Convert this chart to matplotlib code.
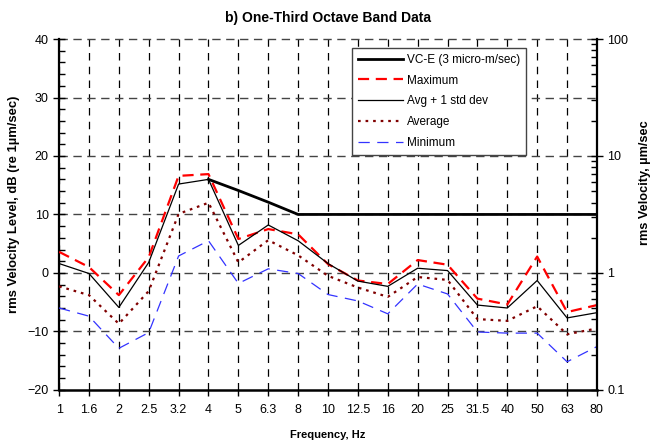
import numpy as np
import matplotlib
matplotlib.use("Agg")
import matplotlib.pyplot as plt
from matplotlib.ticker import MultipleLocator, LogLocator, NullFormatter, FixedLocator

plt.rcParams['font.family'] = ['Liberation Sans', 'DejaVu Sans']

# ── Data ─────────────────────────────────────────────────────────────────────
freq_labels = ['1', '1.6', '2', '2.5', '3.2', '4', '5', '6.3', '8', '10',
               '12.5', '16', '20', '25', '31.5', '40', '50', '63', '80']

vce     = [np.nan, np.nan, np.nan, np.nan, np.nan, 16.0, 14.1, 12.1, 10.0, 10.0,
           10.0, 10.0, 10.0, 10.0, 10.0, 10.0, 10.0, 10.0, 10.0]
maximum = [3.6, 1.0, -3.8, 2.7, 16.6, 16.9, 5.8, 7.5, 6.6, 1.5,
           -1.3, -1.9, 2.2, 1.4, -4.4, -5.4, 2.8, -6.7, -5.5]
avg_std = [1.6, -0.1, -5.9, 1.8, 15.2, 16.0, 4.7, 8.2, 5.5, 1.6,
           -1.4, -2.3, 0.8, 0.4, -5.5, -6.0, -1.3, -7.7, -6.8]
average = [-2.3, -3.8, -8.7, -3.1, 10.1, 12.0, 1.8, 5.6, 3.0, -0.5,
           -2.5, -4.1, -0.7, -1.2, -7.9, -8.2, -5.7, -10.5, -9.5]
minimum = [-6.0, -7.4, -12.9, -10.2, 2.9, 5.5, -1.8, 0.7, -0.1, -3.7,
           -4.8, -7.0, -1.9, -3.6, -10.1, -10.3, -10.3, -15.2, -12.6]

x = np.arange(len(freq_labels))

# ── Plot ─────────────────────────────────────────────────────────────────────
fig = plt.figure(figsize=(6.64, 4.44), dpi=100)
ax = fig.add_axes([0.089, 0.122, 0.810, 0.790])

# grid first so lines sit on top
for xi in x:
    ax.axvline(xi, color='black', lw=0.9, dashes=(6, 5), zorder=1)
for yv in [-10, 0, 10, 20, 30, 40]:
    ax.axhline(yv, color='#444444', lw=1.0, dashes=(6, 4), zorder=1, clip_on=False)

ax.plot(x, vce, color='black', lw=2.0, label='VC-E (3 micro-m/sec)', zorder=5)
ax.plot(x, maximum, color='#ff0000', lw=1.6, dashes=(5, 3), label='Maximum', zorder=4)
ax.plot(x, avg_std, color='black', lw=0.9, label='Avg + 1 std dev', zorder=4)
ax.plot(x, average, color='#800000', lw=1.6, dashes=(1.2, 2.2), label='Average', zorder=3)
ax.plot(x, minimum, color='#3333ff', lw=0.9, dashes=(9, 6), label='Minimum', zorder=3)

ax.set_xlim(0, len(x) - 1)
ax.set_ylim(-20, 40)
ax.set_xticks(x)
ax.set_xticklabels(freq_labels)
ax.yaxis.set_major_locator(MultipleLocator(10))
ax.yaxis.set_minor_locator(MultipleLocator(2))
ax.tick_params(axis='y', which='major', direction='inout', length=8, width=1, labelsize=9)
ax.tick_params(axis='y', which='minor', direction='in', length=4, width=1)
ax.tick_params(axis='x', which='major', direction='out', length=4, width=1, labelsize=9, pad=6)

ax.spines['top'].set_visible(False)
ax.spines['right'].set_visible(False)
ax.spines['left'].set_linewidth(1.6)
ax.spines['bottom'].set_linewidth(1.8)

ax.set_xlabel('Frequency, Hz', fontsize=8, fontweight='bold', labelpad=10)
ax.set_ylabel('rms Velocity Level, dB (re 1µm/sec)', fontsize=9.4, fontweight='bold')
ax.yaxis.set_label_coords(-0.072, 0.53)
ax.set_title('b) One-Third Octave Band Data', fontsize=10, fontweight='bold', pad=12)

# right axis in µm/sec (20 log10)
ax2 = ax.twinx()
ax2.set_yscale('log')
ax2.set_ylim(0.1, 100)
ax2.yaxis.set_major_locator(FixedLocator([0.1, 1, 10, 100]))
ax2.set_yticklabels(['0.1', '1', '10', '100'])
ax2.yaxis.set_minor_locator(LogLocator(base=10, subs=np.arange(2, 10)))
ax2.yaxis.set_minor_formatter(NullFormatter())
ax2.tick_params(axis='y', which='major', direction='inout', length=8, width=1, labelsize=9)
ax2.tick_params(axis='y', which='minor', direction='in', length=4, width=1)
for s in ['top', 'left', 'bottom']:
    ax2.spines[s].set_visible(False)
ax2.spines['right'].set_linewidth(1.6)
ax2.set_ylabel('rms Velocity, µm/sec', fontsize=9.2, fontweight='bold')
ax2.yaxis.set_label_coords(1.078, 0.59)

leg = ax2.legend(*ax.get_legend_handles_labels(), loc='upper left',
                 bbox_to_anchor=(0.545, 0.975), fontsize=8.5, frameon=True,
                 fancybox=False, edgecolor='#444444', framealpha=1,
                 handlelength=3.8, handletextpad=0.3, labelspacing=0.75,
                 borderpad=0.5, borderaxespad=0)
leg.get_frame().set_linewidth(1.0)

fig.savefig('out.png', dpi=100)
